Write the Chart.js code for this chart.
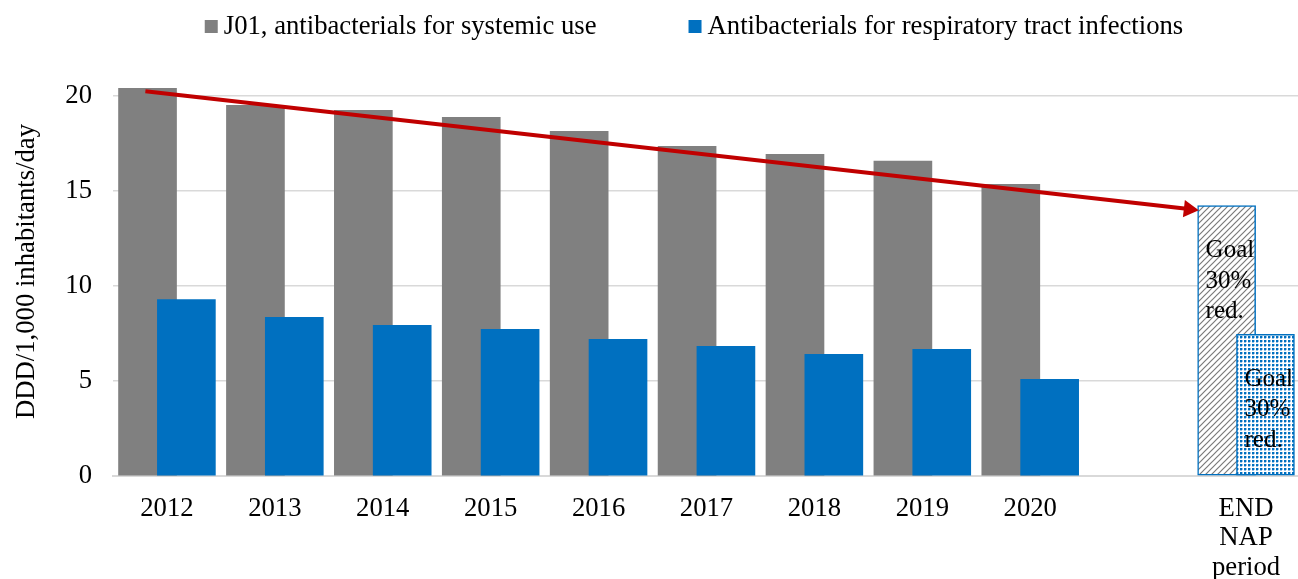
<!DOCTYPE html>
<html>
<head>
  <title>Antibacterial consumption</title>
  <script src="https://cdn.jsdelivr.net/npm/chart.js"></script>
  <style>
    body { margin:0; background:#fff; overflow:hidden; }
  </style>
</head>
<body>
  <canvas id="chart" width="1310" height="579"></canvas>
  <script>
    // data
    const labels = ['2012','2013','2014','2015','2016','2017','2018','2019','2020','',['END','NAP','period']];
    const systemic = [20.38, 19.49, 19.22, 18.86, 18.12, 17.33, 16.91, 16.55, 15.33, null, 14.22];
    const respiratory = [9.28, 8.34, 7.92, 7.71, 7.18, 6.82, 6.40, 6.66, 5.08, null, 7.45];
    const trend = [{x:-0.2, y:20.23}, {x:9.47, y:14.03}];
    const yTicks = [0, 5, 10, 15, 20];
    const seriesNames = ['J01, antibacterials for systemic use', 'Antibacterials for respiratory tract infections'];
    const goalText = ['Goal', '30%', 'red.'];

    const grey = '#808080', blue = '#0070c0', red = '#c00000', gridCol = '#d9d9d9';
    const font = 'Liberation Serif';
    const fs = 26.7;
    const last = labels.length - 1;

    function hatch() {
      const c = document.createElement('canvas'); c.width = 6; c.height = 6;
      const g = c.getContext('2d');
      g.fillStyle = '#fff'; g.fillRect(0, 0, 6, 6);
      g.strokeStyle = '#7a7a7a'; g.lineWidth = 1.2;
      g.beginPath();
      g.moveTo(0, 6); g.lineTo(6, 0);
      g.moveTo(-1, 1); g.lineTo(1, -1);
      g.moveTo(5, 7); g.lineTo(7, 5);
      g.stroke();
      return g.createPattern(c, 'repeat');
    }
    function dots() {
      const c = document.createElement('canvas'); c.width = 4; c.height = 4;
      const g = c.getContext('2d');
      g.fillStyle = '#fff'; g.fillRect(0, 0, 4, 4);
      g.fillStyle = '#9cc3e6'; g.fillRect(2, 0, 1, 2); g.fillRect(0, 2, 2, 1);
      g.fillStyle = blue; g.fillRect(0, 0, 2, 2);
      return g.createPattern(c, 'repeat');
    }

    // bars sit on a linear axis (category index), the two series shifted apart so they overlap
    const toPoints = (vals, shift) => vals.map((v, i) => ({ x: i + shift, y: v }));
    const goalFill = (base, pat) => labels.map((l, i) => i === last ? pat : base);
    const goalBorder = labels.map((l, i) => i === last ? 1.5 : 0);

    const legendRow = {
      id: 'legendRow',
      afterDraw(chart) {
        const ctx = chart.ctx;
        ctx.save();
        ctx.font = fs + 'px "' + font + '"';
        ctx.textBaseline = 'middle';
        const cols = [grey, blue];
        const widths = seriesNames.map(s => 19 + ctx.measureText(s).width);
        const gap = 92;
        let x = (chart.chartArea.left + chart.chartArea.right) / 2 - 12.5 - (widths[0] + gap + widths[1]) / 2;
        seriesNames.forEach((s, i) => {
          ctx.fillStyle = cols[i]; ctx.fillRect(x, 20, 13, 13);
          ctx.fillStyle = '#000'; ctx.fillText(s, x + 19, 27);
          x += widths[i] + gap;
        });
        ctx.restore();
      }
    };

    const goalLabels = {
      id: 'goalLabels',
      afterDatasetsDraw(chart) {
        const ctx = chart.ctx;
        ctx.save();
        ctx.font = '25px "' + font + '"';
        ctx.fillStyle = '#000';
        ctx.textBaseline = 'middle';
        [0, 1].forEach(d => {
          const bar = chart.getDatasetMeta(d).data[last];
          const x0 = bar.x - bar.width / 2 + 8;
          goalText.forEach((t, k) => ctx.fillText(t, x0, bar.y + 45 + k * 30.5));
        });
        ctx.restore();
      }
    };

    new Chart(document.getElementById('chart'), {
      type: 'bar',
      data: {
        labels: labels,
        datasets: [
          { label: seriesNames[0], data: toPoints(systemic, -0.18), xAxisID: 'xl', order: 1,
            grouped: false, barThickness: 58,
            backgroundColor: goalFill(grey, hatch()), borderColor: blue, borderWidth: goalBorder, borderSkipped: false },
          { label: seriesNames[1], data: toPoints(respiratory, 0.18), xAxisID: 'xl', order: 0,
            grouped: false, barThickness: 58,
            backgroundColor: goalFill(blue, dots()), borderColor: blue, borderWidth: goalBorder, borderSkipped: false },
          { type: 'line', label: 'trend', data: trend, xAxisID: 'xl', order: -1,
            borderColor: red, borderWidth: 4, backgroundColor: red, fill: false,
            pointStyle: 'triangle', pointRadius: [0, 10], pointRotation: 96.5,
            pointBackgroundColor: red, pointBorderWidth: 0, clip: false }
        ]
      },
      options: {
        responsive: false,
        animation: false,
        layout: { padding: { top: 67, right: 0, left: 0, bottom: 0 } },
        plugins: { legend: { display: false }, tooltip: { enabled: false } },
        scales: {
          x: {
            type: 'category',
            min: 0, max: last,
            offset: true,
            grid: { display: false },
            border: { display: true, color: gridCol, width: 2 },
            ticks: { color: '#000', font: { family: font, size: fs, lineHeight: 1.11 }, padding: 10,
                     maxRotation: 0, autoSkip: false },
            afterFit: s => { s.height = 103; }
          },
          xl: { type: 'linear', display: false, offset: false, min: -0.5, max: last + 0.5 },
          y: {
            min: 0, max: 21.5,
            afterBuildTicks: s => { s.ticks = yTicks.map(v => ({ value: v })); },
            grid: { color: gridCol, lineWidth: 1.5, drawTicks: false },
            border: { display: false },
            ticks: { color: '#000', font: { family: font, size: fs }, padding: 21 },
            title: { display: true, text: 'DDD/1,000 inhabitants/day', color: '#000',
                     font: { family: font, size: fs }, padding: { top: 11, bottom: 0 } },
            afterFit: s => { s.width = 113; }
          }
        }
      },
      plugins: [legendRow, goalLabels]
    });
  </script>
</body>
</html>
